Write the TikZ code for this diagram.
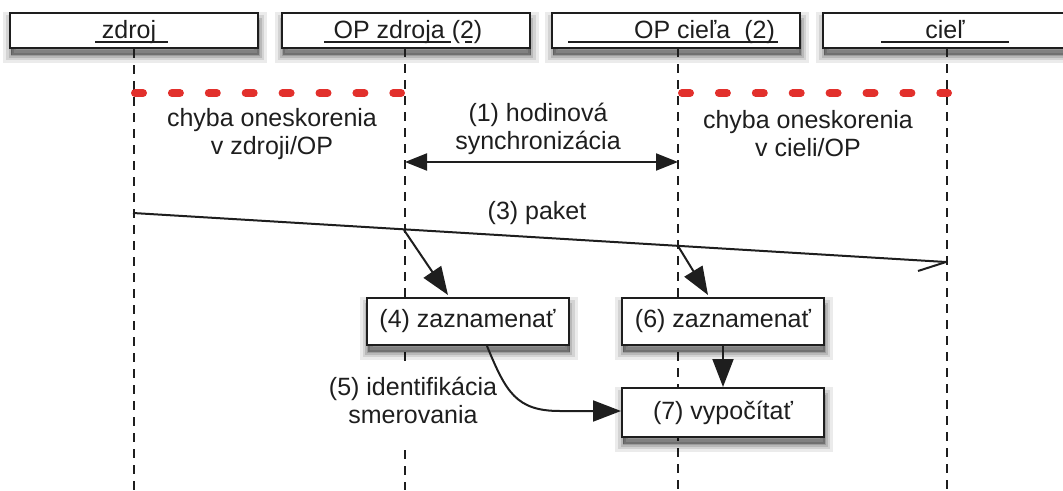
\documentclass[tikz,border=0pt]{standalone}
\usepackage{fontspec}
\setmainfont{Liberation Sans}
\usetikzlibrary{arrows.meta}
\definecolor{redd}{RGB}{226,48,44}
\definecolor{ink}{RGB}{30,30,30}
\begin{document}
\begin{tikzpicture}[x=1pt,y=-1pt,
  every node/.style={font=\fontsize{25}{28}\selectfont, text=ink},
  shd/.style={
    preaction={draw=black, fill=black, opacity=0.08, line width=16pt, transform canvas={xshift=1pt,yshift=-7pt}},
    preaction={draw=black, fill=black, opacity=0.10, line width=10pt, transform canvas={xshift=1pt,yshift=-7pt}},
    preaction={draw=black, fill=black, opacity=0.13, line width=5pt, transform canvas={xshift=1pt,yshift=-7pt}},
    preaction={draw=black, fill=black, opacity=0.15, line width=1pt, transform canvas={xshift=1pt,yshift=-7pt}}},
  hdr/.style={shd, draw=ink, line width=2pt, fill=white, minimum width=248pt, minimum height=35pt, inner sep=0pt},
  stepbox/.style={shd, draw=ink, line width=2pt, fill=white, minimum width=202pt, minimum height=47pt, inner sep=0pt},
  life/.style={draw=ink, line width=1.5pt, dash pattern=on 9pt off 7pt},
  reddash/.style={draw=redd, line width=8pt, line cap=round, dash pattern=on 8pt off 28.9pt},
  uline/.style={draw=ink, line width=1.2pt},
  arr/.style={draw=ink, line width=2pt, -{Triangle[length=28pt,width=21pt]}},
  darr/.style={draw=ink, line width=2pt, {Triangle[length=22pt,width=17pt]}-{Triangle[length=22pt,width=17pt]}},
  lbl/.style={align=center, inner sep=0pt}
]
\useasboundingbox (0,0) rectangle (1063,490);
\coordinate (bot) at (0,490);
% header boxes
\node[hdr] (h1) at (134,30.5) {};
\node[hdr] (h2) at (405.5,30.5) {};
\node[hdr] (h3) at (676,30.5) {};
\node[hdr] (h4) at (947,30.5) {};
\node[lbl, anchor=base] (t1) at (129,38) {zdroj};
\node[lbl, anchor=base] (t2) at (408,38) {OP zdroja (2)};
\node[lbl, anchor=base] (t3) at (704.5,38) {OP cieľa\hspace{14pt}(2)};
\node[lbl, anchor=base] (t4) at (945,38) {cieľ};
\draw[uline] (95,42) -- (168,42);
\draw[uline] (324,42) -- (451,42);
\draw[uline] (465,42) -- (472,42);
\draw[uline] (568,42) -- (778,42);
\draw[uline] (881,42) -- (1009,42);
% lifelines
\coordinate (l2a) at (405,368);
\coordinate (l2b) at (405,450);
\draw[life] (h1.south) -- (h1.south |- bot);
\draw[life] (405,48) -- (l2a);
\draw[life] (l2b) -- (405,490);
\draw[life] (678,48) -- (678,490);
\draw[life] (947,48) -- (947,490);
% red delay-error bars
\coordinate (ra) at (135,93);
\coordinate (rb) at (401,93);
\coordinate (rc) at (682,93);
\coordinate (rd) at (948,93);
\draw[reddash] (ra) -- (rb);
\draw[reddash] (rc) -- (rd);
% texts
\node[lbl] (e1) at (272,134) {chyba oneskorenia\\v zdroji/OP};
\node[lbl] (e2) at (808,134) {chyba oneskorenia\\v cieli/OP};
\node[lbl] (s1) at (538,129) {(1) hodinová\\synchronizácia};
% sync arrow
\coordinate (sa) at (405,162);
\coordinate (sb) at (678,162);
\draw[darr] (sa) -- (sb);
% packet
\coordinate (p0) at (133,213);
\coordinate (p1) at (946,262);
\coordinate (pa) at (404,230);
\coordinate (pb) at (678,246);
\draw[draw=ink, line width=2pt] (p0) -- (p1);
\draw[draw=ink, line width=2pt] (p1) -- ++(-28,9);
\node[lbl] (pk) at (537,213) {(3) paket};
% step boxes
\node[stepbox] (b4) at (467.5,321.5) {(4) zaznamenať};
\node[stepbox] (b6) at (723,321.5) {(6) zaznamenať};
\node[stepbox, minimum height=49pt] (b7) at (723,412.5) {(7) vypočítať};
\draw[arr] (pa) -- ([xshift=-19.5pt,yshift=2pt]b4.north);
\draw[arr] (pb) -- ([xshift=-15pt,yshift=2pt]b6.north);
\draw[arr] (b6.south) -- (b7.north);
\draw[arr] ([xshift=19.5pt]b4.south) .. controls (506,392) and (516,411) .. (560,411) -- ([yshift=1.5pt]b7.west);
\node[lbl] (id) at (413,400) {(5) identifikácia\\smerovania};
\end{tikzpicture}
\end{document}
